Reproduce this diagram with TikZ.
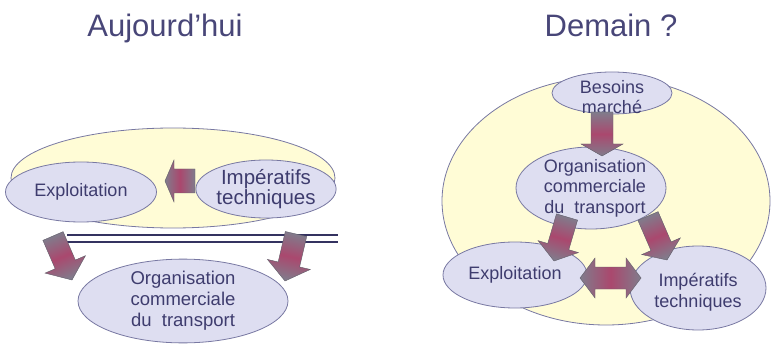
\documentclass[tikz,border=0pt]{standalone}
\usepackage{fontspec}
\setmainfont{Liberation Sans}
\usetikzlibrary{shapes.geometric,calc}

\definecolor{inkblue}{RGB}{62,60,110}
\definecolor{titleblue}{RGB}{72,70,120}
\definecolor{lavender}{RGB}{222,222,241}
\definecolor{rimblue}{RGB}{120,120,162}
\definecolor{paleyellow}{RGB}{255,252,214}
\definecolor{arrowgrey}{RGB}{128,124,140}
\definecolor{arrowwine}{RGB}{170,72,110}
\definecolor{railblue}{RGB}{52,50,96}

\tikzset{
  bubble/.style={ellipse, draw=rimblue, line width=0.8pt, fill=lavender,
    inner sep=0pt, text=inkblue, align=center,
    font=\fontsize{18}{20.5}\selectfont},
  bigtext/.style={font=\fontsize{20.5}{20}\selectfont},
  inset/.style={text=inkblue, align=center, font=\fontsize{18}{20.5}\selectfont},
  field/.style={ellipse, draw=rimblue, line width=0.8pt, fill=paleyellow, inner sep=0pt},
  heading/.style={text=titleblue, font=\fontsize{31}{36}\selectfont, anchor=base},
  fatarrow/.style={draw=arrowgrey!75!black, line width=0.4pt,
    left color=arrowgrey, right color=arrowgrey, middle color=arrowwine},
  rail/.style={draw=railblue, line width=2.8pt},
}

% Block arrow from #1 to its tip #2: shaft half-width #3, head half-width #4, head length #5
\newcommand\blockarrow[5]{%
  \coordinate (ba-h) at ($(#2)!#5!(#1)$);
  \path let \p1=($(#2)-(#1)$) in
    \pgfextra{\pgfmathsetmacro\baangle{atan2(\y1,\x1)+90}\global\let\baangle\baangle};
  \path[fatarrow, shading angle=\baangle]
    ($(#1)!#3!90:(#2)$) -- ($(ba-h)!#3!90:(#2)$) -- ($(ba-h)!#4!90:(#2)$) -- (#2)
    -- ($(ba-h)!#4!-90:(#2)$) -- ($(ba-h)!#3!-90:(#2)$) -- ($(#1)!#3!-90:(#2)$) -- cycle;
}
% Block arrow with tips at both #1 and #2
\newcommand\twowayarrow[5]{%
  \coordinate (tw-a) at ($(#1)!#5!(#2)$);
  \coordinate (tw-b) at ($(#2)!#5!(#1)$);
  \path let \p1=($(#2)-(#1)$) in
    \pgfextra{\pgfmathsetmacro\baangle{atan2(\y1,\x1)+90}\global\let\baangle\baangle};
  \path[fatarrow, shading angle=\baangle]
    (#1) -- ($(tw-a)!#4!90:(#2)$) -- ($(tw-a)!#3!90:(#2)$) -- ($(tw-b)!#3!90:(#2)$)
    -- ($(tw-b)!#4!90:(#2)$) -- (#2) -- ($(tw-b)!#4!-90:(#2)$) -- ($(tw-b)!#3!-90:(#2)$)
    -- ($(tw-a)!#3!-90:(#2)$) -- ($(tw-a)!#4!-90:(#2)$) -- cycle;
}

\begin{document}
\begin{tikzpicture}[x=1pt, y=-1pt]
\useasboundingbox (0,0) rectangle (778,347);

% ---------- today ----------
\node[heading] (today) at (165,37) {Aujourd'hui};

\node[field, minimum width=324pt, minimum height=100pt] (lfield) at (173,178) {};
\node[bubble, minimum width=151pt, minimum height=60pt] (lexpl) at (81,192) {Exploitation};
\node[bubble, bigtext, minimum width=136pt, minimum height=58pt] (limp) at (266,189)
  {Impératifs\\techniques};

\coordinate (limp-out) at (195,181);
\coordinate (lexpl-in) at (165,181);
\blockarrow{limp-out}{lexpl-in}{12pt}{21pt}{9pt}

\coordinate (rail1a) at (67,235);  \coordinate (rail1b) at (338,235);
\coordinate (rail2a) at (67,242);  \coordinate (rail2b) at (338,242);
\draw[rail] (rail1a) -- (rail1b);
\draw[rail] (rail2a) -- (rail2b);

\node[bubble, font=\fontsize{18.5}{21}\selectfont, minimum width=210pt, minimum height=80pt]
  (lorg) at (183,301) {Organisation\\commerciale\\du\ \ transport};

\coordinate (lexpl-down) at (53,236);
\coordinate (lorg-inl) at (72,280);
\blockarrow{lexpl-down}{lorg-inl}{11pt}{22pt}{17pt}
\coordinate (limp-down) at (296,234);
\coordinate (lorg-inr) at (285,281);
\blockarrow{limp-down}{lorg-inr}{11pt}{22pt}{17pt}

% ---------- tomorrow ----------
\node[heading] (tomorrow) at (611,37) {Demain ?};

\node[field, minimum width=328pt, minimum height=248pt] (rfield) at (606,201) {};
\node[bubble, minimum width=120pt, minimum height=42pt,
  label={[inset, yshift=-4pt]center:Besoins\\marché}] (rneed) at (612,93) {};
\node[bubble, minimum width=150pt, minimum height=82pt,
  label={[inset, xshift=4pt]center:Organisation\\commerciale\\du\ \ transport}]
  (rorg) at (591,188) {};
\node[bubble, minimum width=144pt, minimum height=66pt] (rexpl) at (515,275) {Exploitation};
\node[bubble, minimum width=136pt, minimum height=84pt,
  label={[inset, yshift=-4pt]center:Impératifs\\techniques}] (rimp) at (698,288) {};

\coordinate (rneed-out) at (602,112);
\coordinate (rorg-in) at (602,156);
\blockarrow{rneed-out}{rorg-in}{11pt}{21pt}{12pt}

\coordinate (rorg-outl) at (567,217);
\coordinate (rexpl-in) at (554,261);
\blockarrow{rorg-outl}{rexpl-in}{11pt}{21pt}{15pt}
\coordinate (rorg-outr) at (648,216);
\coordinate (rimp-in) at (667,260);
\blockarrow{rorg-outr}{rimp-in}{11pt}{21pt}{15pt}

\coordinate (rexpl-side) at (580,278);
\coordinate (rimp-side) at (641,278);
\twowayarrow{rexpl-side}{rimp-side}{11pt}{20pt}{15pt}
\end{tikzpicture}
\end{document}
